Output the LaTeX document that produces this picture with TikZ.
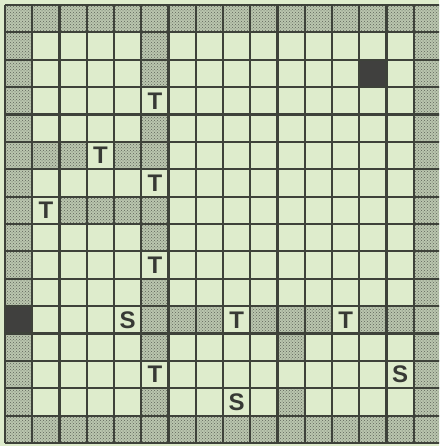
\documentclass[tikz,border=0pt]{standalone}
\usepackage{fontspec}
\setmainfont{Liberation Sans}
\usetikzlibrary{patterns}
\definecolor{bgcol}{RGB}{222,236,204}
\definecolor{shadecol}{RGB}{186,198,174}
\definecolor{dotcol}{RGB}{95,100,90}
\definecolor{linecol}{RGB}{62,66,58}
\definecolor{blackcol}{RGB}{64,64,62}
\definecolor{textcol}{RGB}{55,57,53}
\tikzset{
  shadecell/.style={fill=shadecol, postaction={pattern=crosshatch dots, pattern color=dotcol}},
  darkcell/.style={fill=blackcol},
  letter/.style={text=textcol, font=\fontsize{24}{24}\selectfont\bfseries, inner sep=0pt},
  gridline/.style={draw=linecol, line width=2.2pt}
}
\begin{document}
\begin{tikzpicture}
\useasboundingbox (0,0) rectangle (439pt,-446pt);
\clip (0,0) rectangle (439pt,-446pt);
\fill[bgcol] (0,0) rectangle (439pt,-446pt);
\begin{scope}[shift={(5pt,-5pt)}, x=27.25pt, y=-27.375pt]
  % shaded cells: border
  \foreach \c in {0,...,15} {
    \path[shadecell] (\c,0) rectangle ++(1,1);
    \path[shadecell] (\c,15) rectangle ++(1,1);
  }
  \foreach \r in {1,...,10,12,13,14} \path[shadecell] (0,\r) rectangle ++(1,1);
  \foreach \r in {1,...,14} \path[shadecell] (15,\r) rectangle ++(1,1);
  % column 5
  \foreach \r in {1,2,4,5,7,8,10,11,12,14} \path[shadecell] (5,\r) rectangle ++(1,1);
  % row 5 and row 7
  \foreach \c in {1,2,4} \path[shadecell] (\c,5) rectangle ++(1,1);
  \foreach \c in {2,3,4} \path[shadecell] (\c,7) rectangle ++(1,1);
  % row 11
  \foreach \c in {6,7,9,10,11,13,14} \path[shadecell] (\c,11) rectangle ++(1,1);
  % column 10
  \foreach \r in {12,14} \path[shadecell] (10,\r) rectangle ++(1,1);
  % dark cells
  \path[darkcell] (13,2) rectangle ++(1,1);
  \path[darkcell] (0,11) rectangle ++(1,1);
  % grid
  \foreach \i in {0,...,16} {
    \draw[gridline] (\i,0) -- (\i,16);
    \draw[gridline] (0,\i) -- (16,\i);
  }
  % letters
  \node[letter] (t1) at (5.5,3.5) {T};
  \node[letter] (t2) at (3.5,5.5) {T};
  \node[letter] (t3) at (5.5,6.5) {T};
  \node[letter] (t4) at (1.5,7.5) {T};
  \node[letter] (t5) at (5.5,9.5) {T};
  \node[letter] (t6) at (8.5,11.5) {T};
  \node[letter] (t7) at (12.5,11.5) {T};
  \node[letter] (t8) at (5.5,13.5) {T};
  \node[letter] (s1) at (4.5,11.5) {S};
  \node[letter] (s2) at (14.5,13.5) {S};
  \node[letter] (s3) at (8.5,14.5) {S};
\end{scope}
\end{tikzpicture}
\end{document}
